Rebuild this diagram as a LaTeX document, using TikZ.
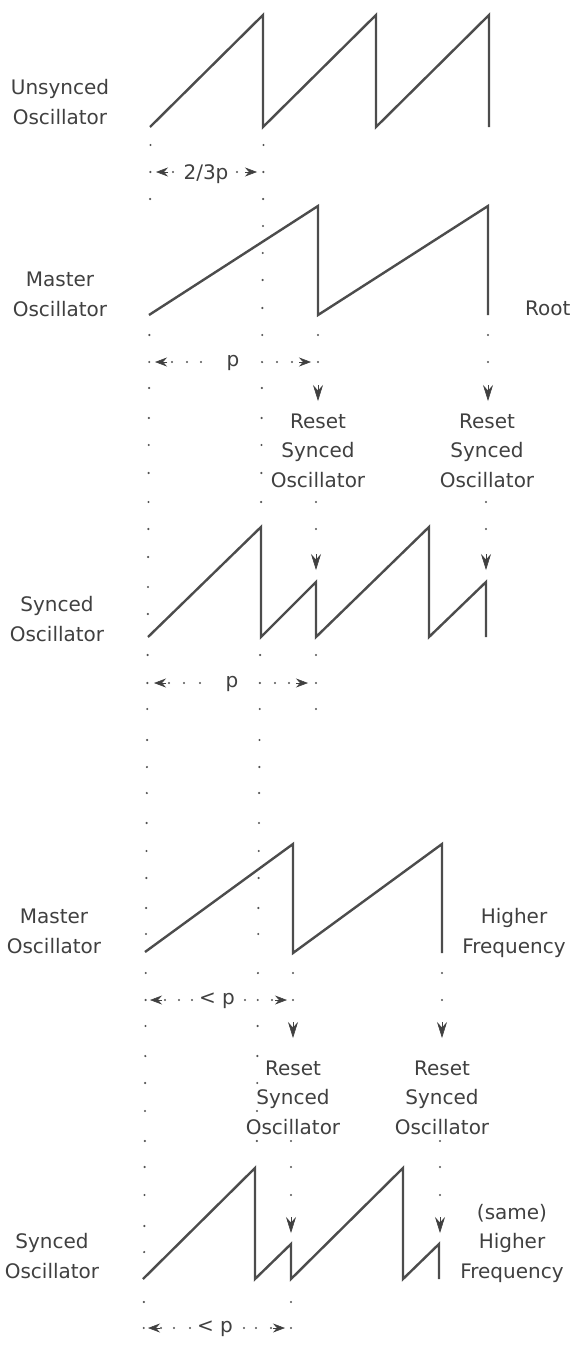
\documentclass[tikz,border=0pt]{standalone}
\usepackage{fontspec}
\setmainfont{DejaVu Sans}
\usetikzlibrary{arrows.meta}
\definecolor{ink}{gray}{0.30}
\definecolor{tipgray}{gray}{0.25}
\definecolor{dotgray}{gray}{0.33}
\definecolor{textgray}{gray}{0.25}
\begin{document}
\begin{tikzpicture}[x=1pt, y=-1pt,
  wave/.style={draw=ink, line width=2.4pt, line join=miter, miter limit=20},
  lbl/.style={font=\fontsize{20}{29.5}\selectfont, text=textgray, align=center, inner sep=0pt, anchor=base},
  dimlbl/.style={font=\fontsize{20}{24}\selectfont, text=textgray, inner sep=0pt, anchor=base},
  dimtip/.style={draw=tipgray, fill=tipgray, line width=0.6pt, -{Stealth[length=12pt, width=9pt, inset=4pt]}},
  resettip/.style={draw=tipgray, fill=tipgray, line width=0.6pt, -{Stealth[length=16pt, width=10pt, inset=5.5pt]}},
  dot/.style={fill=dotgray}
]
\useasboundingbox (0,0) rectangle (574,1354);

% ---------- waveforms ----------
% unsynced sawtooth
\draw[wave] (150,127) -- (263,15) -- (263,127) -- (376,15) -- (376,127) -- (489,15) -- (489,127);
% master oscillator (root)
\draw[wave] (149,315) -- (318,206) -- (318,315) -- (488,206) -- (488,315);
% synced oscillator
\draw[wave] (148,637) -- (261,527) -- (261,637) -- (316,582) -- (316,637)
  -- (429,527) -- (429,637) -- (486,582) -- (486,637);
% master oscillator (higher frequency)
\draw[wave] (145,952) -- (293,844) -- (293,953) -- (442,844) -- (442,953);
% synced oscillator (higher frequency)
\draw[wave] (143,1279) -- (255,1168) -- (255,1279) -- (291,1244) -- (291,1279)
  -- (403,1168) -- (403,1279) -- (439,1244) -- (439,1279);

% ---------- dotted guide columns ----------
\foreach \y in {145,172,199,335,362,388,418,445,473,502,529,557,587,614,655,683,709,740,767,793,823,851,878,908,934,973,1000,1026,1056,1083,1111,1141,1167,1195,1226,1252,1302,1328}
  \fill[dot] ({150.5-0.0057*(\y-145)},\y) circle[radius=1.2pt];
\foreach \y in {145,172,199,226,253,280,308,335,362,388,418,445,473,502,655,683,709,740,767,793,823,851,878,908,934,973,1000,1026,1056,1083,1111,1141}
  \fill[dot] ({263.5-0.0067*(\y-145)},\y) circle[radius=1.2pt];
\foreach \p in {(318,335),(318,362),(316,502),(316,529),(316,655),(316,683),(316,709),
                (488,335),(488,362),(486,502),(486,529),
                (293,973),(293,1000),(291,1141),(291,1167),(291,1195),(291,1302),(291,1328),
                (442,973),(442,1000),(440,1141),(440,1167),(440,1195)}
  \fill[dot] \p circle[radius=1.2pt];

% ---------- reset arrowheads ----------
\coordinate (rC1) at (318,401);
\coordinate (rD1) at (488,401);
\coordinate (rC2) at (316,570);
\coordinate (rD2) at (486,570);
\coordinate (rC3) at (293,1038);
\coordinate (rD3) at (442,1038);
\coordinate (rC4) at (291,1233);
\coordinate (rD4) at (440,1233);
\foreach \t in {rC1,rD1,rC2,rD2,rC3,rD3,rC4,rD4}
  \draw[resettip] ([yshift=16pt]\t) -- (\t);

% ---------- period markers ----------
% 2/3 p
\coordinate (d1L) at (156,172);
\coordinate (d1R) at (257,172);
\draw[dimtip] ([xshift=12pt]d1L) -- (d1L);
\draw[dimtip] ([xshift=-12pt]d1R) -- (d1R);
\foreach \x in {173,237} \fill[dot] (\x,172) circle[radius=1.2pt];
\node[dimlbl] (d1t) at (206,179) {2/3p};
% p (root)
\coordinate (d2L) at (155,362);
\coordinate (d2R) at (311,362);
\draw[dimtip] ([xshift=12pt]d2L) -- (d2L);
\draw[dimtip] ([xshift=-12pt]d2R) -- (d2R);
\foreach \x in {172,187,201,277,292} \fill[dot] (\x,362) circle[radius=1.2pt];
\node[dimlbl] (d2t) at (233,366) {p};
% p (synced)
\coordinate (d3L) at (154,683);
\coordinate (d3R) at (308,683);
\draw[dimtip] ([xshift=12pt]d3L) -- (d3L);
\draw[dimtip] ([xshift=-12pt]d3R) -- (d3R);
\foreach \x in {169,184,200,275,289} \fill[dot] (\x,683) circle[radius=1.2pt];
\node[dimlbl] (d3t) at (232,687) {p};
% < p (higher frequency master)
\coordinate (d4L) at (150,1000);
\coordinate (d4R) at (287,1000);
\draw[dimtip] ([xshift=12pt]d4L) -- (d4L);
\draw[dimtip] ([xshift=-12pt]d4R) -- (d4R);
\foreach \x in {165,179,192,245,272} \fill[dot] (\x,1000) circle[radius=1.2pt];
\node[dimlbl] (d4t) at (217,1004) {< p};
% < p (higher frequency synced)
\coordinate (d5L) at (148,1328);
\coordinate (d5R) at (285,1328);
\draw[dimtip] ([xshift=12pt]d5L) -- (d5L);
\draw[dimtip] ([xshift=-12pt]d5R) -- (d5R);
\foreach \x in {161,174,190,244,256,271} \fill[dot] (\x,1328) circle[radius=1.2pt];
\node[dimlbl] (d5t) at (215,1332) {< p};

% ---------- labels (anchored at the baseline of the last line) ----------
\node[lbl] (unsynced) at (60,124) {Unsynced\\Oscillator};
\node[lbl] (master1) at (60,316) {Master\\Oscillator};
\node[lbl] (synced1) at (57,641) {Synced\\Oscillator};
\node[lbl] (master2) at (54,953) {Master\\Oscillator};
\node[lbl] (synced2) at (52,1278) {Synced\\Oscillator};
\node[lbl, anchor=base west] (root) at (525,315) {Root};
\node[lbl] (higher) at (514,953) {Higher\\Frequency};
\node[lbl] (same) at (512,1278) {(same)\\Higher\\Frequency};
\node[lbl] (resetC1) at (318,487) {Reset\\Synced\\Oscillator};
\node[lbl] (resetD1) at (487,487) {Reset\\Synced\\Oscillator};
\node[lbl] (resetC3) at (293,1134) {Reset\\Synced\\Oscillator};
\node[lbl] (resetD3) at (442,1134) {Reset\\Synced\\Oscillator};
\end{tikzpicture}
\end{document}
